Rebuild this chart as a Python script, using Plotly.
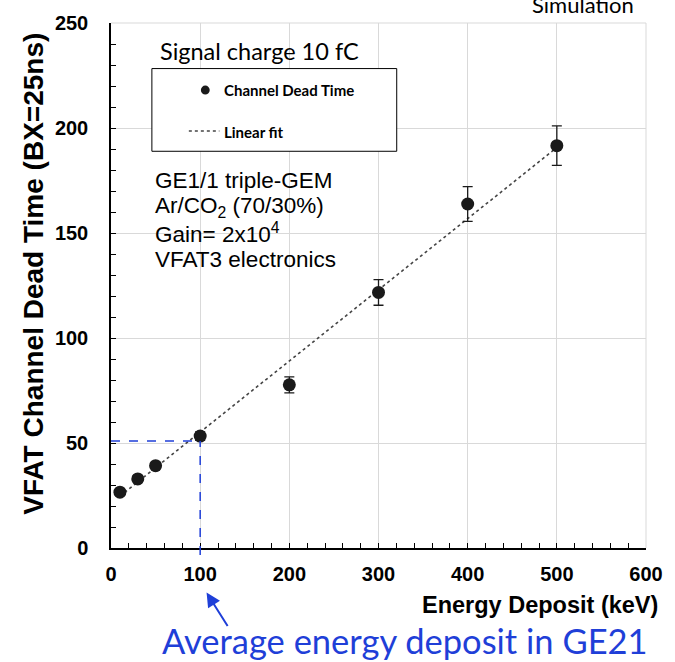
import plotly.graph_objects as go

# ---------------- data ----------------
energy_kev = [10, 30, 50, 100, 200, 300, 400, 500]
dead_time_bx = [26.6, 32.9, 39.2, 53.3, 77.7, 121.7, 163.8, 191.6]
dead_time_err = [1.5, 1.5, 1.5, 2.0, 3.8, 6.1, 8.3, 9.4]

fit_x = [10, 500]
fit_y = [24.7, 190.7]

ref_energy = 100      # average energy deposit in GE21
ref_dead_time = 51

x_ticks = [0, 100, 200, 300, 400, 500, 600]
y_ticks = [0, 50, 100, 150, 200, 250]

info_lines = ["GE1/1 triple-GEM", "Ar/CO<sub>2</sub> (70/30%)",
              "Gain= 2x10<sup>4</sup>", "VFAT3 electronics"]

# ---------------- layout geometry ----------------
W, H = 675, 662
ML, MR, MT, MB = 111, 21, 18, 114
PW, PH = W - ML - MR, H - MT - MB


def px(xp):
    return (xp - ML) / PW


def py(yp):
    return (MT + PH - yp) / PH


BLUE = "#1f3fd8"
GRID = "#d9d9d9"
CAL = "Lato, 'Noto Sans', sans-serif"
ARIAL = "'Liberation Sans', Arial, sans-serif"

fig = go.Figure()

fig.add_trace(go.Scatter(
    x=fit_x, y=fit_y, mode="lines",
    line=dict(color="#444444", width=1.6, dash="dot"),
    name="Linear fit", showlegend=False, hoverinfo="skip"))

fig.add_trace(go.Scatter(
    x=energy_kev, y=dead_time_bx, mode="markers",
    marker=dict(size=13, color="#1a1a1a"),
    error_y=dict(type="data", array=dead_time_err, visible=True,
                 color="#1a1a1a", thickness=1.3, width=5),
    name="Channel Dead Time", showlegend=False))

shapes = [
    # outer grid lines at the top and right edges
    dict(type="line", xref="paper", yref="paper", x0=0, x1=1, y0=1, y1=1,
         line=dict(color=GRID, width=1), layer="below"),
    dict(type="line", xref="paper", yref="paper", x0=1, x1=1, y0=0, y1=1,
         line=dict(color=GRID, width=1), layer="below"),
    # blue dashed guide lines
    dict(type="line", xref="x", yref="y", x0=0, x1=ref_energy,
         y0=ref_dead_time, y1=ref_dead_time,
         line=dict(color=BLUE, width=1.5, dash="dash")),
    dict(type="line", xref="x", yref="paper", x0=ref_energy, x1=ref_energy,
         y0=py(555), y1=(ref_dead_time / 250),
         line=dict(color=BLUE, width=1.5, dash="dash")),
    # legend box
    dict(type="rect", xref="paper", yref="paper",
         x0=px(152.5), x1=px(401), y0=py(147.5), y1=py(64),
         line=dict(color="black", width=1), fillcolor="white", layer="above"),
    # legend marker
    dict(type="circle", xref="paper", yref="paper",
         x0=px(202.2), x1=px(211.2), y0=py(90.2), y1=py(81.2),
         fillcolor="#1a1a1a", line=dict(width=0), layer="above"),
    # legend dotted line
    dict(type="line", xref="paper", yref="paper",
         x0=px(190), x1=px(221), y0=py(127), y1=py(127),
         line=dict(color="#444444", width=1.5, dash="dot"), layer="above"),
]

annotations = [
    dict(text="Simulation", xref="paper", yref="paper", x=px(590), y=py(15),
         xanchor="center", yanchor="bottom", showarrow=False,
         font=dict(family=CAL, size=22, color="black")),
    dict(text="Signal charge 10 fC", xref="paper", yref="paper",
         x=px(159), y=py(46), xanchor="left", yanchor="middle", showarrow=False,
         font=dict(family=CAL, size=23.5, color="black")),
    dict(text="Channel Dead Time", xref="paper", yref="paper",
         x=px(224), y=py(86), xanchor="left", yanchor="middle", showarrow=False,
         font=dict(family=CAL, size=15, color="black", weight="bold")),
    dict(text="Linear fit", xref="paper", yref="paper",
         x=px(224), y=py(128), xanchor="left", yanchor="middle", showarrow=False,
         font=dict(family=CAL, size=15, color="black", weight="bold")),
    dict(text="VFAT Channel Dead Time (BX=25ns)", xref="paper", yref="paper",
         x=px(31.5), y=py(271.5), xanchor="center", yanchor="middle",
         textangle=-90, showarrow=False,
         font=dict(family=ARIAL, size=28, color="black", weight="bold")),
    dict(text="Energy Deposit (keV)", xref="paper", yref="paper",
         x=px(546.5), y=py(606), xanchor="center", yanchor="middle",
         showarrow=False,
         font=dict(family=ARIAL, size=23.5, color="black", weight="bold")),
    dict(text="Average energy deposit in GE21", xref="paper", yref="paper",
         x=px(409), y=py(641), xanchor="center", yanchor="middle",
         showarrow=False, font=dict(family=CAL, size=34.5, color=BLUE)),
    dict(text="", xref="paper", yref="paper", x=px(208), y=py(593),
         ax=22, ay=35, showarrow=True, arrowhead=2, arrowsize=1.4,
         arrowwidth=2, arrowcolor=BLUE, standoff=0),
]

info_y = [176.7, 203.5, 230.2, 257]
for line, yp in zip(info_lines, info_y):
    annotations.append(dict(
        text=line, xref="paper", yref="paper", x=px(154), y=py(yp),
        xanchor="left", yanchor="middle", showarrow=False,
        font=dict(family=ARIAL, size=22.5, color="black")))

fig.update_layout(
    width=W, height=H,
    margin=dict(l=ML, r=MR, t=MT, b=MB, pad=0),
    paper_bgcolor="white", plot_bgcolor="white",
    showlegend=False,
    shapes=shapes, annotations=annotations,
    xaxis=dict(
        range=[0, 600], tickvals=x_ticks, ticktext=[str(v) for v in x_ticks],
        showgrid=True, gridcolor=GRID, gridwidth=1,
        showline=True, linecolor="black", linewidth=1.5, mirror=False,
        zeroline=False, ticks="inside", ticklen=5, tickcolor="black",
        tickwidth=1, ticklabelstandoff=7,
        minor=dict(dtick=20, tick0=0, ticks="inside", ticklen=5,
                   tickcolor="black", showgrid=False),
        tickfont=dict(family=ARIAL, size=20, color="black", weight="bold"),
    ),
    yaxis=dict(
        range=[0, 250], tickvals=y_ticks, ticktext=[str(v) for v in y_ticks],
        showgrid=True, gridcolor=GRID, gridwidth=1,
        showline=True, linecolor="black", linewidth=1.5, mirror=False,
        zeroline=False, ticks="inside", ticklen=5, tickcolor="black",
        tickwidth=1, ticklabelstandoff=17,
        minor=dict(dtick=10, tick0=0, ticks="inside", ticklen=5,
                   tickcolor="black", showgrid=False),
        tickfont=dict(family=ARIAL, size=20, color="black", weight="bold"),
    ),
)

fig.write_html("out.html")
